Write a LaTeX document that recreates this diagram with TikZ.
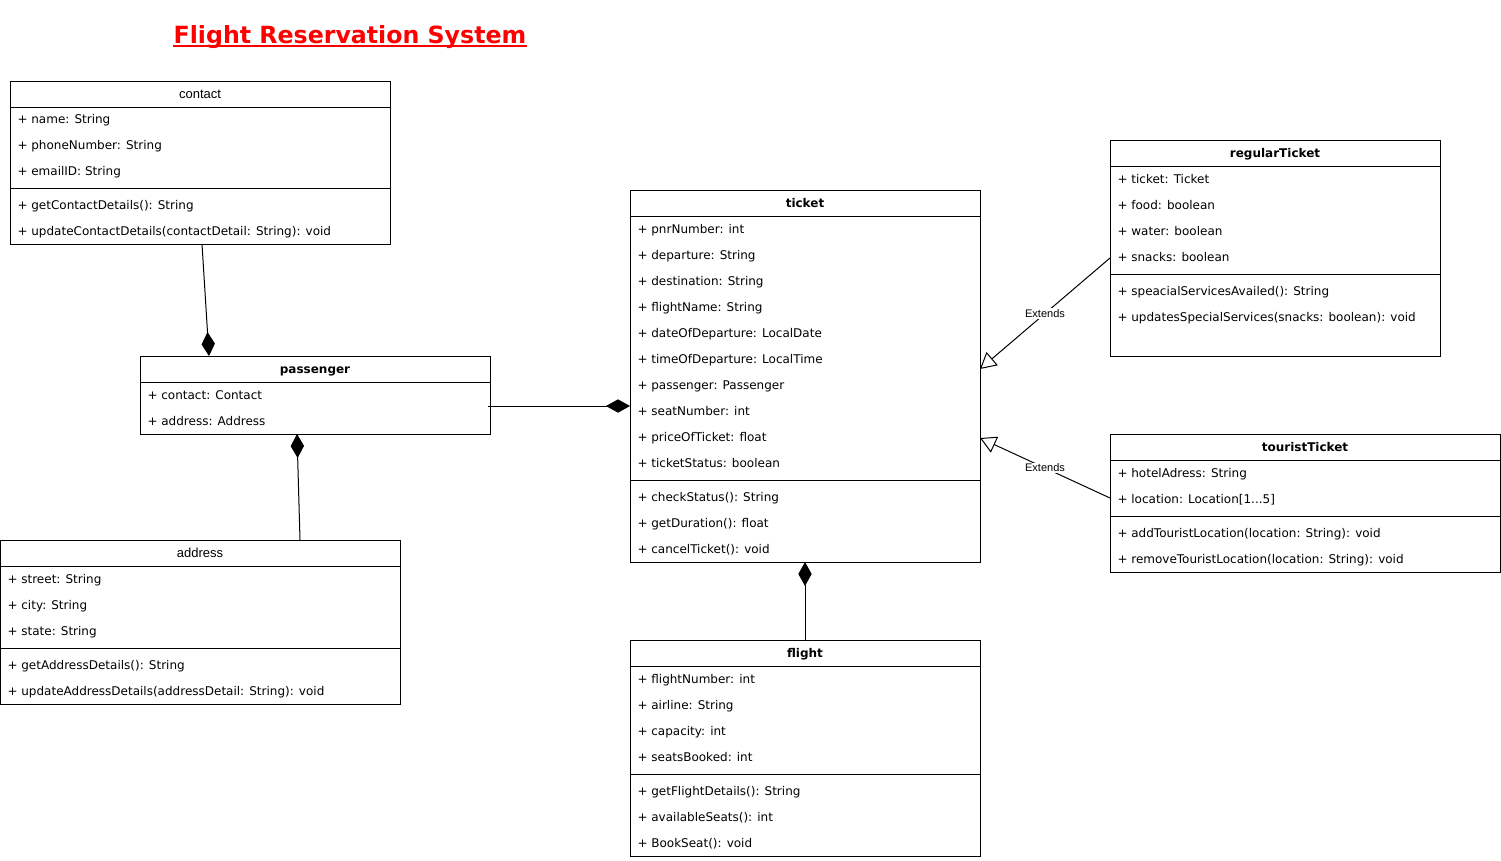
\documentclass[tikz,border=0pt]{standalone}
\usepackage{fontspec}
\setmainfont{DejaVu Sans}
\newfontfamily\arialfont{Liberation Sans}
\usetikzlibrary{arrows.meta,calc}
\newlength\upx
\setlength\upx{0.75pt}
\tikzset{
  classbox/.style={draw,anchor=north west,inner sep=0pt,outer sep=0pt},
  boldname/.style={anchor=base,inner sep=0pt,font=\bfseries\fontsize{9}{11}\selectfont},
  lightname/.style={anchor=base,inner sep=0pt,font=\arialfont\fontsize{9.75}{11}\selectfont},
  member/.style={anchor=base west,inner sep=0pt,font=\fontsize{9}{11}\selectfont},
  compose/.style={-{Diamond[length=18pt,width=10pt]}},
  extends/.style={-{Triangle[open,length=12pt,width=13pt]}},
  extlabel/.style={fill=white,inner sep=1pt,font=\arialfont\fontsize{8.25}{9}\selectfont},
  title/.style={text=red,anchor=base,inner sep=0pt,font=\bfseries\fontsize{17.75}{21}\selectfont}
}
\begin{document}
\begin{tikzpicture}[x=0.75pt,y=-0.75pt,line width=0.75pt]
\pgfmathsetmacro{\rowh}{26}
\fill[white] (0,0) rectangle (1501,860);
\useasboundingbox (0,0) rectangle (1501,860);
\node[title] (title) at (350,43) {Flight Reservation System};
\draw[red,line width=1.5pt] ($(title.base west)+(0,3)$) -- ($(title.base east)+(0,3)$);
% contact
\node[classbox,minimum width=380\upx,minimum height=163\upx] (contact) at (10,81) {};
\node[lightname] (contact-name) at ($(contact.north)+(0,17)$) {contact};
\draw ($(contact.north west)+(0,26)$)--($(contact.north east)+(0,26)$) ($(contact.north west)+(0,107)$)--($(contact.north east)+(0,107)$);
\foreach \x/\a in {0/{name: String},1/{phoneNumber: String},2/{emailID: String}}{\node[member] (contact-a\x) at ($(contact.north west)+(7,42+\x*\rowh)$) {+ \a};}
\foreach \x/\a in {0/{getContactDetails(): String},1/{updateContactDetails(contactDetail: String): void}}{\node[member] (contact-m\x) at ($(contact.north west)+(7,128+\x*\rowh)$) {+ \a};}
% passenger
\node[classbox,minimum width=350\upx,minimum height=78\upx] (passenger) at (140,356) {};
\node[boldname] (passenger-name) at ($(passenger.north)+(0,17)$) {passenger};
\draw ($(passenger.north west)+(0,26)$)--($(passenger.north east)+(0,26)$);
\foreach \x/\a in {0/{contact: Contact},1/{address: Address}}{\node[member] (passenger-a\x) at ($(passenger.north west)+(7,43+\x*\rowh)$) {+ \a};}
% address
\node[classbox,minimum width=400\upx,minimum height=164\upx] (address) at (0,540) {};
\node[lightname] (address-name) at ($(address.north)+(0,17)$) {address};
\draw ($(address.north west)+(0,26)$)--($(address.north east)+(0,26)$) ($(address.north west)+(0,108)$)--($(address.north east)+(0,108)$);
\foreach \x/\a in {0/{street: String},1/{city: String},2/{state: String}}{\node[member] (address-a\x) at ($(address.north west)+(7,43+\x*\rowh)$) {+ \a};}
\foreach \x/\a in {0/{getAddressDetails(): String},1/{updateAddressDetails(addressDetail: String): void}}{\node[member] (address-m\x) at ($(address.north west)+(7,129+\x*\rowh)$) {+ \a};}
% ticket
\node[classbox,minimum width=350\upx,minimum height=372\upx] (ticket) at (630,190) {};
\node[boldname] (ticket-name) at ($(ticket.north)+(0,17)$) {ticket};
\draw ($(ticket.north west)+(0,26)$)--($(ticket.north east)+(0,26)$) ($(ticket.north west)+(0,290)$)--($(ticket.north east)+(0,290)$);
\foreach \x/\a in {0/{pnrNumber: int},1/{departure: String},2/{destination: String},3/{flightName: String},4/{dateOfDeparture: LocalDate},5/{timeOfDeparture: LocalTime},6/{passenger: Passenger},7/{seatNumber: int},8/{priceOfTicket: float},9/{ticketStatus: boolean}}{\node[member] (ticket-a\x) at ($(ticket.north west)+(7,43+\x*\rowh)$) {+ \a};}
\foreach \x/\a in {0/{checkStatus(): String},1/{getDuration(): float},2/{cancelTicket(): void}}{\node[member] (ticket-m\x) at ($(ticket.north west)+(7,311+\x*\rowh)$) {+ \a};}
% flight
\node[classbox,minimum width=350\upx,minimum height=216\upx] (flight) at (630,640) {};
\node[boldname] (flight-name) at ($(flight.north)+(0,17)$) {flight};
\draw ($(flight.north west)+(0,26)$)--($(flight.north east)+(0,26)$) ($(flight.north west)+(0,134)$)--($(flight.north east)+(0,134)$);
\foreach \x/\a in {0/{flightNumber: int},1/{airline: String},2/{capacity: int},3/{seatsBooked: int}}{\node[member] (flight-a\x) at ($(flight.north west)+(7,43+\x*\rowh)$) {+ \a};}
\foreach \x/\a in {0/{getFlightDetails(): String},1/{availableSeats(): int},2/{BookSeat(): void}}{\node[member] (flight-m\x) at ($(flight.north west)+(7,155+\x*\rowh)$) {+ \a};}
% regularTicket
\node[classbox,minimum width=330\upx,minimum height=216\upx] (regularTicket) at (1110,140) {};
\node[boldname] (regularTicket-name) at ($(regularTicket.north)+(0,17)$) {regularTicket};
\draw ($(regularTicket.north west)+(0,26)$)--($(regularTicket.north east)+(0,26)$) ($(regularTicket.north west)+(0,134)$)--($(regularTicket.north east)+(0,134)$);
\foreach \x/\a in {0/{ticket: Ticket},1/{food: boolean},2/{water: boolean},3/{snacks: boolean}}{\node[member] (regularTicket-a\x) at ($(regularTicket.north west)+(7,43+\x*\rowh)$) {+ \a};}
\foreach \x/\a in {0/{speacialServicesAvailed(): String},1/{updatesSpecialServices(snacks: boolean): void}}{\node[member] (regularTicket-m\x) at ($(regularTicket.north west)+(7,155+\x*\rowh)$) {+ \a};}
% touristTicket
\node[classbox,minimum width=390\upx,minimum height=138\upx] (touristTicket) at (1110,434) {};
\node[boldname] (touristTicket-name) at ($(touristTicket.north)+(0,17)$) {touristTicket};
\draw ($(touristTicket.north west)+(0,26)$)--($(touristTicket.north east)+(0,26)$) ($(touristTicket.north west)+(0,82)$)--($(touristTicket.north east)+(0,82)$);
\foreach \x/\a in {0/{hotelAdress: String},1/{location: Location[1...5]}}{\node[member] (touristTicket-a\x) at ($(touristTicket.north west)+(7,43+\x*\rowh)$) {+ \a};}
\foreach \x/\a in {0/{addTouristLocation(location: String): void},1/{removeTouristLocation(location: String): void}}{\node[member] (touristTicket-m\x) at ($(touristTicket.north west)+(7,103+\x*\rowh)$) {+ \a};}
% connectors
\draw[compose] ($(contact.south)+(2,0)$) -- ($(passenger.north west)+(69,0)$);
\draw[compose] ($(address.north west)+(300,0)$) -- ($(passenger.south west)+(157,0)$);
\draw[compose] ($(passenger.east)+(-2,11)$) -- ($(ticket.west)+(0,30)$);
\draw[compose] (flight.north) -- (ticket.south);
\draw[extends] ($(regularTicket.west)+(0,10)$) -- node[extlabel] (extends-regular) {Extends} ($(ticket.east)+(0,-7)$);
\draw[extends] ($(touristTicket.west)+(0,-5)$) -- node[extlabel] (extends-tourist) {Extends} ($(ticket.east)+(0,62)$);
\end{tikzpicture}
\end{document}
